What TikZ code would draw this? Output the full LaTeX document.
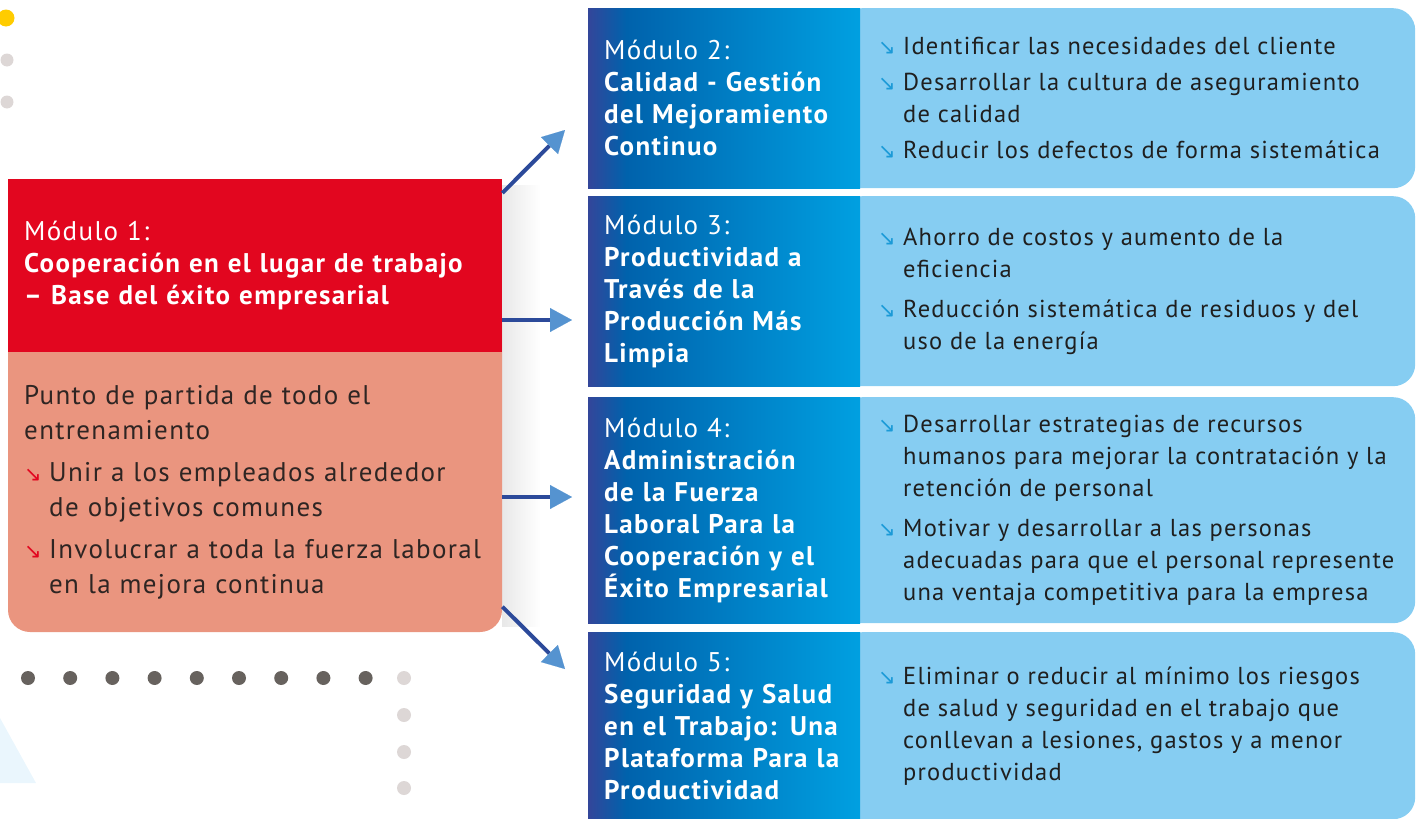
\documentclass[tikz,border=0pt]{standalone}
\usepackage{fontspec}
\setmainfont{PT Sans}[LetterSpace=5]
\newfontfamily\symfont{DejaVu Sans}
\usetikzlibrary{positioning}
\usetikzlibrary{arrows.meta}
\definecolor{modred}{HTML}{E2061F}
\definecolor{bodyfill}{HTML}{EA957F}
\definecolor{bodytext}{HTML}{2E2523}
\definecolor{modblueA}{HTML}{33469A}
\definecolor{modblueB}{HTML}{0062AC}
\definecolor{modblueC}{HTML}{00A0E1}
\definecolor{itemblue}{HTML}{86CDF2}
\definecolor{itemtext}{HTML}{1F1F1F}
\definecolor{bulletblue}{HTML}{1B9AD7}
\definecolor{linkline}{HTML}{2C4A9A}
\definecolor{linkhead}{HTML}{5593D0}
\definecolor{dotdark}{HTML}{67625E}
\definecolor{dotlight}{HTML}{DDD7D6}
\definecolor{dotyellow}{HTML}{FFCC00}
\definecolor{faintblue}{HTML}{EAF6FD}
\pgfdeclarehorizontalshading{modshade}{100bp}{color(0bp)=(modblueA); color(25bp)=(modblueA); color(32bp)=(modblueB); color(75bp)=(modblueC); color(100bp)=(modblueC)}
\newcommand{\itemarrow}[1]{\makebox[25pt][l]{\symfont\fontsize{21}{21}\selectfont\color{#1}↘}} % bullet arrow, takes its colour

\begin{document}
\begin{tikzpicture}[x=1pt, y=-1pt,
    headbox/.style={fill=modred, anchor=north west, minimum width=494pt, minimum height=173pt, inner xsep=16pt, text width=462pt, align=left, text=white, font=\fontsize{27}{32}\selectfont},
    bodybox/.style={minimum width=494pt, minimum height=280pt, inner xsep=16pt, text width=462pt, align=left, text=bodytext, font=\fontsize{27}{35}\selectfont},
    modbox/.style={shade, shading=modshade, anchor=north west, minimum width=272pt, inner xsep=16pt, text width=240pt, align=left, text=white, font=\fontsize{27}{32}\selectfont},
    itembox/.style={fill=itemblue, rounded corners=22pt, anchor=north west, minimum width=575pt, inner sep=0pt},
    itemlist/.style={align=left, inner sep=0pt, text=itemtext, font=\fontsize{24.5}{32}\selectfont},
    link/.style={draw=linkline, line width=4pt, -{Triangle[length=22pt, width=24pt, line width=0.1pt, color=linkhead]}}]
    \useasboundingbox (0,0) rectangle (1419,819);

    % Background dots and wedge
    \fill[faintblue] (0,718) -- (36,783) -- (0,783) -- cycle;
    \fill[dotyellow] (6,18) circle (8.5pt);
    \fill[dotlight] (7,60) circle (6.5pt);
    \fill[dotlight] (7,102) circle (6.5pt);
    \foreach \i in {0,...,8}
        \fill[dotdark] (28+42.2*\i,678) circle (7pt);
    \foreach \y in {678,715,752,788}
        \fill[dotlight] (404,\y) circle (7pt);

    % Module 1
    \shade[left color=black!9, right color=white] (502,185) rectangle (540,626);
    \fill[bodyfill, rounded corners=22pt] (8,300) rectangle (502,632);
    \node[headbox] (m1head) at (8,179) {Módulo 1:\\\bfseries Cooperación en el lugar de trabajo\\– Base del éxito empresarial};
    \node[bodybox, below=0pt of m1head] (m1body) {Punto de partida de todo el\\
        entrenamiento\\[7pt]
        \itemarrow{modred}Unir a los empleados alrededor\\
        \hspace*{25pt}de objetivos comunes\\[7pt]
        \itemarrow{modred}Involucrar a toda la fuerza laboral\\
        \hspace*{25pt}en la mejora continua};

    % Module 2
    \node[itembox, minimum height=180pt] (r2) at (840,8) {};
    \node[modbox, minimum height=180pt] (m2) at (588,8) {Módulo 2:\\\bfseries Calidad - Gestión\\del Mejoramiento\\Continuo};
    \node[itemlist, right=38pt of r2.west] (l2) {\itemarrow{bulletblue}Identificar las necesidades del cliente\\[4pt]
        \itemarrow{bulletblue}Desarrollar la cultura de aseguramiento\\
        \hspace*{25pt}de calidad\\[4pt]
        \itemarrow{bulletblue}Reducir los defectos de forma sistemática};

    % Module 3
    \node[itembox, minimum height=190pt] (r3) at (840,196) {};
    \node[modbox, minimum height=190pt] (m3) at (588,196) {Módulo 3:\\\bfseries Productividad a\\Través de la\\Producción Más\\Limpia};
    \node[itemlist, right=38pt of r3.west] (l3) {\itemarrow{bulletblue}Ahorro de costos y aumento de la\\
        \hspace*{25pt}eficiencia\\[8pt]
        \itemarrow{bulletblue}Reducción sistemática de residuos y del\\
        \hspace*{25pt}uso de la energía};

    % Module 4
    \node[itembox, minimum height=226pt] (r4) at (840,397) {};
    \node[modbox, minimum height=226pt] (m4) at (588,397) {Módulo 4:\\\bfseries Administración\\de la Fuerza\\Laboral Para la\\Cooperación y el\\Éxito Empresarial};
    \node[itemlist, right=38pt of r4.west] (l4) {\itemarrow{bulletblue}Desarrollar estrategias de recursos\\
        \hspace*{25pt}humanos para mejorar la contratación y la\\
        \hspace*{25pt}retención de personal\\[8pt]
        \itemarrow{bulletblue}Motivar y desarrollar a las personas\\
        \hspace*{25pt}adecuadas para que el personal represente\\
        \hspace*{25pt}una ventaja competitiva para la empresa};

    % Module 5
    \node[itembox, minimum height=187pt] (r5) at (840,632) {};
    \node[modbox, minimum height=187pt] (m5) at (588,632) {Módulo 5:\\\bfseries Seguridad y Salud\\en el Trabajo: Una\\Plataforma Para la\\Productividad};
    \node[itemlist, right=38pt of r5.west] (l5) {\itemarrow{bulletblue}Eliminar o reducir al mínimo los riesgos\\
        \hspace*{25pt}de salud y seguridad en el trabajo que\\
        \hspace*{25pt}conllevan a lesiones, gastos y a menor\\
        \hspace*{25pt}productividad};

    % Links
    \coordinate (tip2) at (565,130);
    \coordinate (tip3) at (572,320);
    \coordinate (tip4) at (572,497);
    \coordinate (tip5) at (565,669);
    \draw[link] ([yshift=-14pt]m1head.north east) -- (tip2);
    \draw[link] (m1head.east |- tip3) -- (tip3);
    \draw[link] (m1body.east |- tip4) -- (tip4);
    \draw[link] ([yshift=26pt]m1body.south east) -- (tip5);
\end{tikzpicture}
\end{document}
